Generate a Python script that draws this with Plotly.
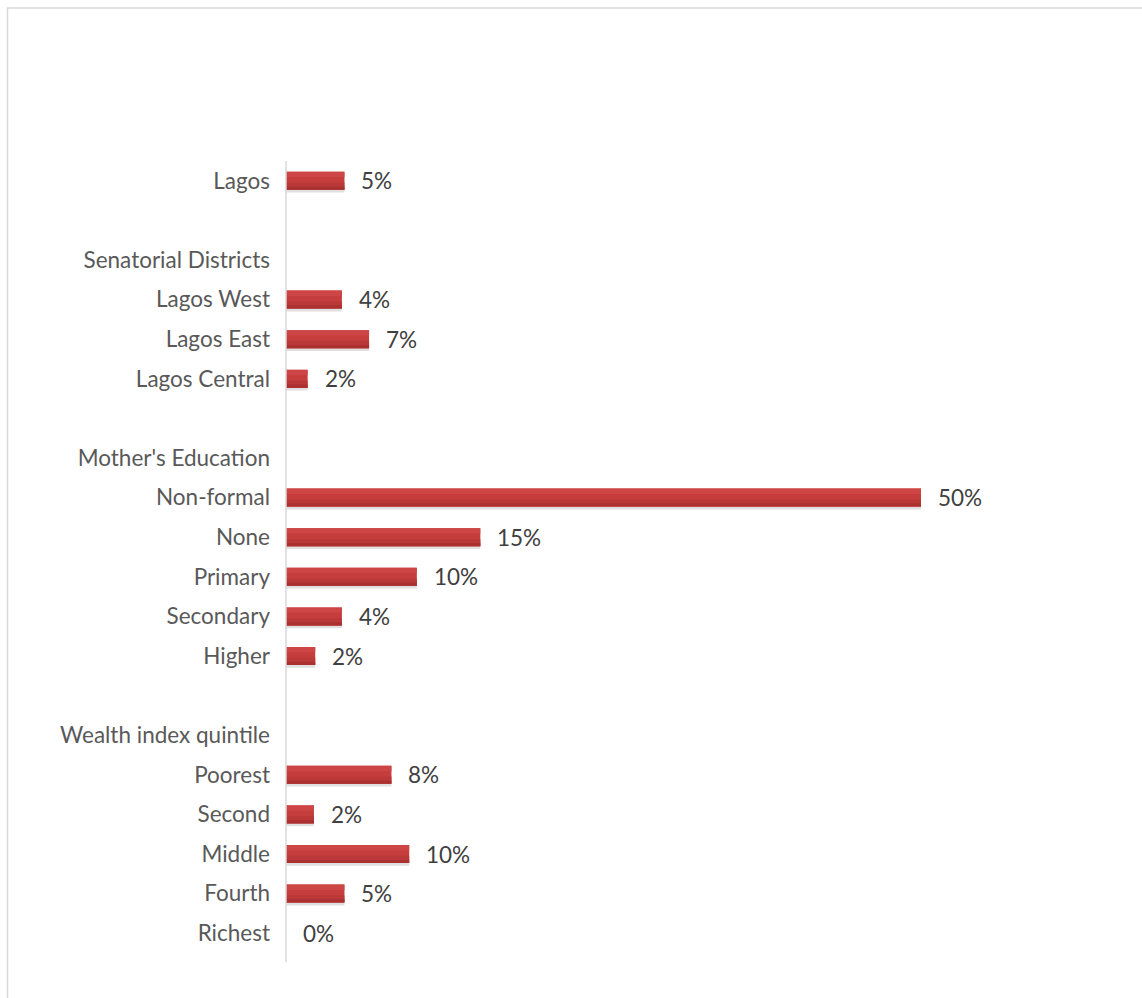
import plotly.graph_objects as go

# Row labels: group headers and spacer rows carry no value
rows = [
    "Lagos", "",
    "Senatorial Districts", "Lagos West", "Lagos East", "Lagos Central", "",
    "Mother's Education", "Non-formal", "None", "Primary", "Secondary", "Higher", "",
    "Wealth index quintile", "Poorest", "Second", "Middle", "Fourth", "Richest",
]
values = [
    4.6, None,
    None, 4.4, 6.54, 1.7, None,
    None, 50.0, 15.3, 10.3, 4.4, 2.3, None,
    None, 8.3, 2.2, 9.7, 4.6, 0.0,
]

W, H = 1142, 998
L, R, T, B = 286, 56, 161, 45
pw, ph = W - L - R, H - T - B

pos = list(range(len(rows)))
bar_w = 0.455

fig = go.Figure()

# soft drop shadow under each bar
fig.add_trace(go.Bar(
    x=values, y=pos, orientation="h", width=bar_w, offset=-bar_w / 2 + 0.07,
    marker=dict(color="rgba(0,0,0,0.12)", line=dict(width=0)),
    hoverinfo="skip", showlegend=False,
))

# shaded bar body: bands from light top to dark bottom
bands = [
    (0.00, 1.00, "#c53d3d"),
    (0.00, 0.30, "#cd4545"),
    (0.60, 1.00, "#bb3838"),
    (0.82, 1.00, "#ab3030"),
]
for f0, f1, col in bands:
    fig.add_trace(go.Bar(
        x=values, y=pos, orientation="h",
        width=bar_w * (f1 - f0), offset=-bar_w / 2 + bar_w * f0,
        marker=dict(color=col, line=dict(width=0)),
        hoverinfo="skip", showlegend=False,
    ))

# value labels to the right of each bar
for v, p in zip(values, pos):
    if v is None:
        continue
    fig.add_annotation(
        x=v, y=p, text=f"{v:.0f}%", showarrow=False,
        xanchor="left", yanchor="middle", xshift=15,
        font=dict(family="Lato", size=22.5, color="#404040"),
    )

# category axis line
fig.add_shape(
    type="line", xref="paper", yref="paper",
    x0=0, x1=0, y0=(H - B - 962) / ph, y1=1,
    line=dict(color="#d9d9d9", width=1.5),
)
# chart frame
fig.add_shape(
    type="rect", xref="paper", yref="paper",
    x0=(7.5 - L) / pw, x1=(W + 5 - L) / pw,
    y0=(H - B - (H + 5)) / ph, y1=(H - B - 8) / ph,
    line=dict(color="#d9d9d9", width=1.5), fillcolor="rgba(0,0,0,0)",
)

fig.update_layout(
    width=W, height=H,
    margin=dict(l=L, r=R, t=T, b=B),
    barmode="overlay",
    paper_bgcolor="white", plot_bgcolor="white",
    font=dict(family="Lato", size=22.5, color="#595959"),
    showlegend=False,
)
fig.update_xaxes(range=[0, pw / 12.7], visible=False)
fig.update_yaxes(
    tickmode="array", tickvals=pos, ticktext=rows,
    range=[len(rows) - 0.5, -0.5],
    showgrid=False, zeroline=False, showline=False,
    ticks="", ticklabelstandoff=15,
)

fig.write_html("out.html")
